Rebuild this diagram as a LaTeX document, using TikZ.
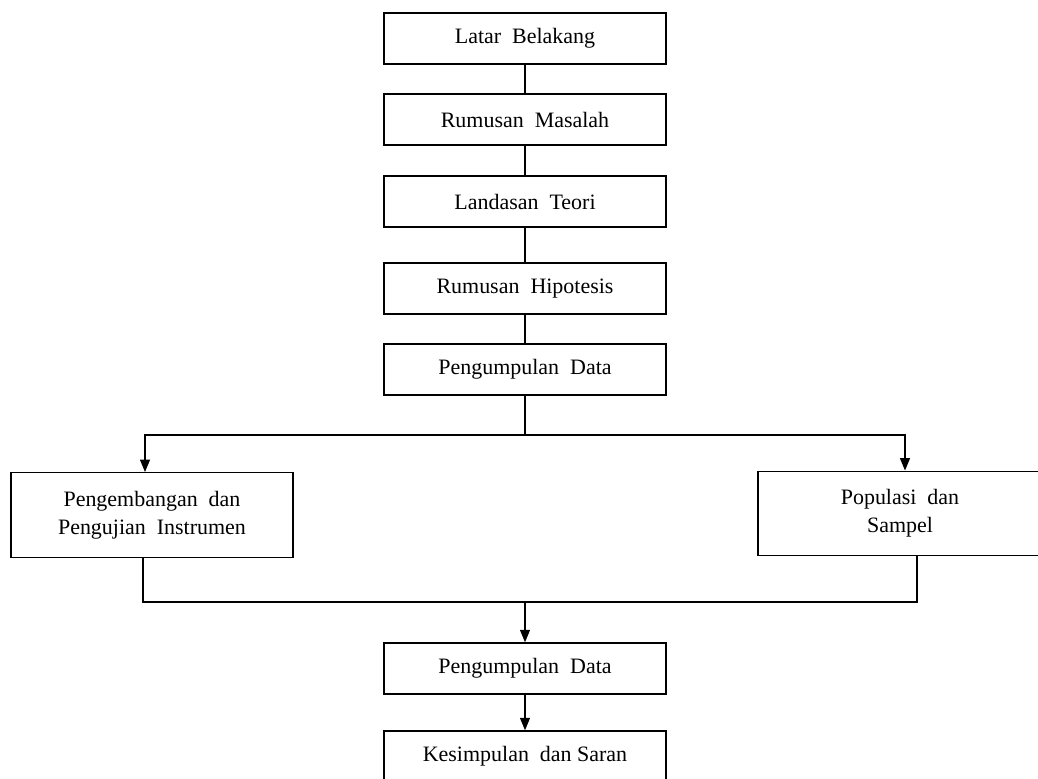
\documentclass[tikz,border=0pt]{standalone}
\usepackage{fontspec}
\setmainfont{Liberation Serif}
\usetikzlibrary{arrows.meta}

\begin{document}
\begin{tikzpicture}[
    box/.style={rectangle, draw, line width=0.8pt, minimum width=5.64cm, minimum height=1.02cm, align=center, font=\fontsize{12.5}{16}\selectfont},
    bigbox/.style={box, minimum height=1.69cm},
    arrow/.style={-{Triangle[length=2.5mm,width=2mm]}, line width=0.8pt},
    line/.style={line width=0.8pt}
]
\useasboundingbox (0,0) rectangle (20.76,15.56);

% Main column
\node[box] (latar) at (10.5,14.79) {Latar\ \ Belakang};
\node[box] (rumusan) at (10.5,13.17) {Rumusan\ \ Masalah};
\node[box] (landasan) at (10.5,11.53) {Landasan\ \ Teori};
\node[box] (hipotesis) at (10.5,9.79) {Rumusan\ \ Hipotesis};
\node[box] (kumpul) at (10.5,8.17) {Pengumpulan\ \ Data};

% Branches
\node[bigbox] (instrumen) at (3.04,5.26) {Pengembangan\ \ dan\\Pengujian\ \ Instrumen};
\node[bigbox, minimum width=5.68cm] (populasi) at (18.0,5.29) {Populasi\ \ dan\\Sampel};

% Bottom
\node[box] (kumpulb) at (10.5,2.19) {Pengumpulan\ \ Data};
\node[box] (kesimpulan) at (10.5,0.43) {Kesimpulan\ \ dan Saran};

\coordinate (split) at (10.5,6.86);
\coordinate (merge) at (10.5,3.52);

% Lines
\draw[line] (latar) -- (rumusan);
\draw[line] (rumusan) -- (landasan);
\draw[line] (landasan) -- (hipotesis);
\draw[line] (hipotesis) -- (kumpul);
\draw[line] (kumpul) -- (split);
\draw[arrow] (split) -| ([xshift=-0.14cm]instrumen.north);
\draw[arrow] (split) -| ([xshift=0.1cm]populasi.north);

\draw[line] ([xshift=-0.18cm]instrumen.south) |- ([xshift=0.34cm]populasi.south |- merge) -- ([xshift=0.34cm]populasi.south);
\draw[arrow] (merge) -- (kumpulb);
\draw[arrow] (kumpulb) -- (kesimpulan);

\end{tikzpicture}
\end{document}
